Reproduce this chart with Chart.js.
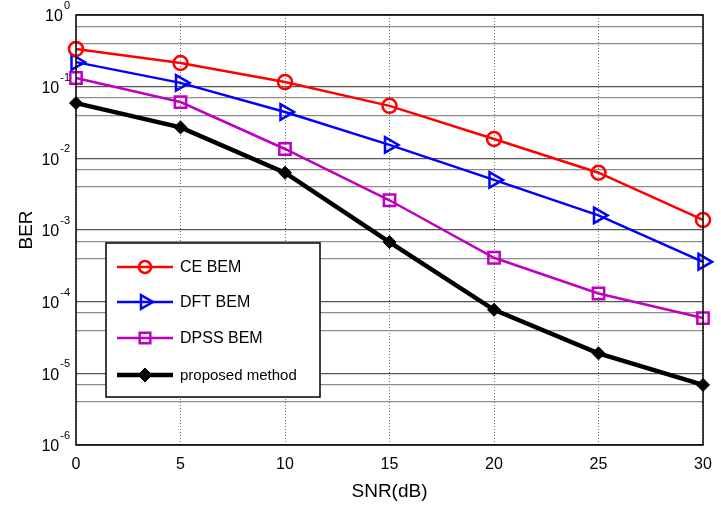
<!DOCTYPE html>
<html><head><meta charset="utf-8">
<script src="https://cdn.jsdelivr.net/npm/chart.js@4.4.0/dist/chart.umd.min.js"></script>
<style>html,body{margin:0;padding:0;background:#fff}#wrap{width:721px;height:510px}</style>
</head><body><div id="wrap"><canvas id="c" width="721" height="510"></canvas></div>
<script>
const snr = [0, 5, 10, 15, 20, 25, 30];
const ceBem = [0.336, 0.214, 0.116, 0.054, 0.0186, 0.0063, 0.00138];
const dftBem = [0.22, 0.113, 0.0444, 0.0154, 0.005, 0.0016, 0.00036];
const dpssBem = [0.132, 0.061, 0.0135, 0.0026, 0.00041, 0.00013, 0.000059];
const proposed = [0.059, 0.027, 0.0063, 0.00068, 0.000077, 0.000019, 0.0000069];
const seriesNames = ['CE BEM', 'DFT BEM', 'DPSS BEM', 'proposed method'];
const xTicks = [0, 5, 10, 15, 20, 25, 30];
const yExponents = [0, -1, -2, -3, -4, -5, -6];
const FONT = '"Liberation Sans", Arial, sans-serif';

function pts(arr){ return snr.map((x,i)=>({x:x,y:arr[i]})); }

const datasets = [
  {label:seriesNames[0], data:pts(ceBem), borderColor:'#ff0000', backgroundColor:'rgba(0,0,0,0)', pointBorderColor:'#ff0000', pointBackgroundColor:'rgba(0,0,0,0)', borderWidth:2.5, pointStyle:'circle', pointRadius:7, pointBorderWidth:2.5, legR:6},
  {label:seriesNames[1], data:pts(dftBem), borderColor:'#0000ff', backgroundColor:'rgba(0,0,0,0)', pointBorderColor:'#0000ff', pointBackgroundColor:'rgba(0,0,0,0)', borderWidth:2.5, pointStyle:'triangle', pointRotation:90, pointRadius:9, pointBorderWidth:2.5, legR:8},
  {label:seriesNames[2], data:pts(dpssBem), borderColor:'#c000c0', backgroundColor:'rgba(0,0,0,0)', pointBorderColor:'#c000c0', pointBackgroundColor:'rgba(0,0,0,0)', borderWidth:2.5, pointStyle:'rect', pointRadius:8, pointBorderWidth:2.5, legR:7.5},
  {label:seriesNames[3], data:pts(proposed), borderColor:'#000000', backgroundColor:'#000000', pointBorderColor:'#000000', pointBackgroundColor:'#000000', borderWidth:4.5, pointStyle:'rectRot', pointRadius:6.5, pointBorderWidth:1, legR:7}
];

const overlay = {
  id:'overlay',
  afterDraw(chart){
    const ctx = chart.ctx, a = chart.chartArea;
    const ys = chart.scales.y, xs = chart.scales.x;
    ctx.save();
    ctx.strokeStyle = '#000'; ctx.lineWidth = 1.5;
    ctx.strokeRect(a.left, a.top, a.right - a.left, a.bottom - a.top);
    ctx.fillStyle = '#000';
    ctx.textBaseline = 'middle';
    yExponents.forEach(e=>{
      const y = ys.getPixelForValue(Math.pow(10,e));
      const exp = String(e);
      ctx.font = '11px ' + FONT;
      const ew = ctx.measureText(exp).width;
      ctx.textAlign = 'left';
      ctx.font = '16px ' + FONT;
      const bw = ctx.measureText('10').width;
      const right = a.left - 6;
      const ex = right - ew;
      ctx.fillText('10', ex - bw - 1, y + 2);
      ctx.font = '11px ' + FONT;
      ctx.fillText(exp, ex, y - 9);
    });
    ctx.font = '16px ' + FONT;
    ctx.textAlign = 'center';
    ctx.textBaseline = 'middle';
    xTicks.forEach(v=>{
      ctx.fillText(String(v), xs.getPixelForValue(v), a.bottom + 20);
    });
    ctx.font = '19px ' + FONT;
    ctx.fillText('SNR(dB)', (a.left + a.right)/2, a.bottom + 47);
    ctx.save();
    ctx.translate(27, (a.top + a.bottom)/2);
    ctx.rotate(-Math.PI/2);
    ctx.fillText('BER', 0, 0);
    ctx.restore();
    // legend
    const lx = 106, ly = 243, lw = 214, lh = 154;
    ctx.fillStyle = '#fff';
    ctx.fillRect(lx, ly, lw, lh);
    ctx.strokeStyle = '#000'; ctx.lineWidth = 1.5;
    ctx.strokeRect(lx, ly, lw, lh);
    const rows = [267, 302, 338, 375];
    chart.data.datasets.forEach((ds,i)=>{
      const y = rows[i];
      ctx.strokeStyle = ds.borderColor; ctx.lineWidth = ds.borderWidth;
      ctx.beginPath(); ctx.moveTo(117, y); ctx.lineTo(173, y); ctx.stroke();
      ctx.fillStyle = ds.pointBackgroundColor; ctx.strokeStyle = ds.pointBorderColor; ctx.lineWidth = ds.pointBorderWidth;
      Chart.helpers.drawPoint(ctx, {pointStyle: ds.pointStyle, rotation: ds.pointRotation||0, radius: ds.legR, borderWidth: ds.pointBorderWidth}, 145, y);
      ctx.fillStyle = '#000';
      ctx.font = (i===3 ? '15px ' : '16px ') + FONT;
      ctx.textAlign = 'left'; ctx.textBaseline = 'middle';
      ctx.fillText(ds.label, 180, y + 1);
    });
    ctx.restore();
  }
};

new Chart(document.getElementById('c'), {
  type:'line',
  data:{datasets:datasets},
  options:{
    responsive:false, animation:false,
    layout:{padding:{top:15, right:18, left:0, bottom:0}},
    elements:{line:{tension:0}},
    datasets:{line:{clip:false}},
    plugins:{legend:{display:false}, tooltip:{enabled:false}},
    scales:{
      x:{type:'linear', min:0, max:30,
        afterBuildTicks(s){ s.ticks = xTicks.map(v=>({value:v})); },
        afterFit(s){ s.height = 65; },
        ticks:{callback:()=>''},
        grid:{color:'#333', lineWidth:0.7, drawTicks:false},
        border:{display:false, dash:[1,2]}
      },
      y:{type:'logarithmic', min:1e-6, max:1,
        afterBuildTicks(s){
          const t=[];
          for(let e=-6;e<0;e++){ for(let m=1;m<10;m++){ t.push({value:m*Math.pow(10,e)}); } }
          t.push({value:1});
          s.ticks=t;
        },
        afterFit(s){ s.width = 76; },
        ticks:{callback:()=>''},
        grid:{drawTicks:false, lineWidth:1.2,
          color(c){ const v=c.tick.value; const l=Math.log10(v); return Math.abs(l-Math.round(l))<1e-6 ? '#555' : '#8c8c8c'; }},
        border:{display:false}
      }
    }
  },
  plugins:[overlay]
});
</script>
</body></html>
